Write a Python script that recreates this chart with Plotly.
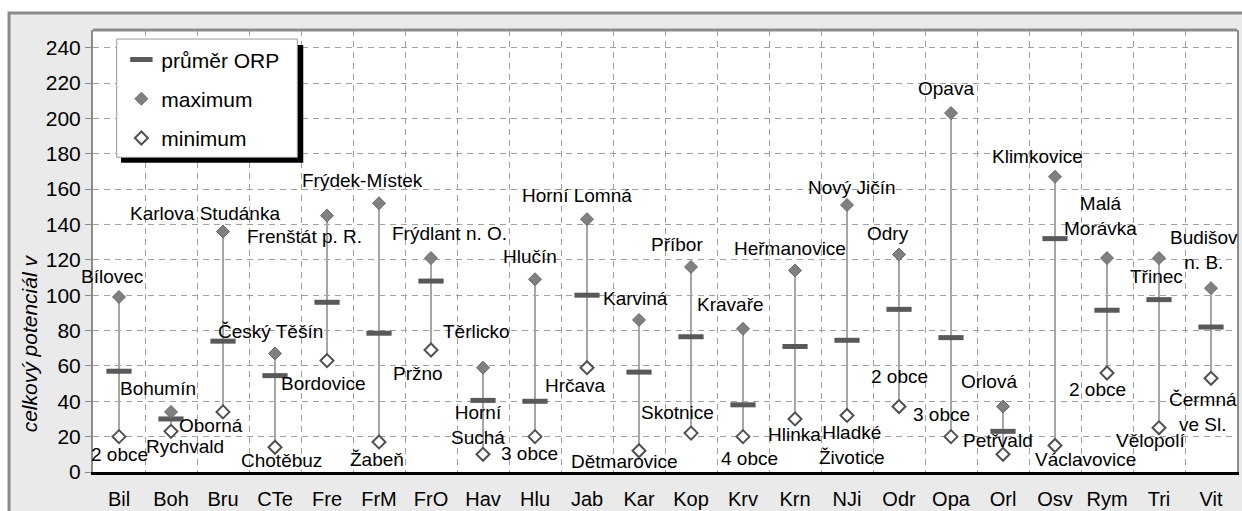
import plotly.graph_objects as go

# ORP codes and values
orp = ["Bil", "Boh", "Bru", "CTe", "Fre", "FrM", "FrO", "Hav", "Hlu", "Jab", "Kar",
       "Kop", "Krv", "Krn", "NJi", "Odr", "Opa", "Orl", "Osv", "Rym", "Tri", "Vit"]
prumer = [57, 30, 74, 54.5, 96, 78.5, 108, 40.5, 40, 100, 56.5,
          76.5, 38, 71, 74.5, 92, 76, 23, 132, 91.5, 97.5, 82]
maximum = [99, 34, 136, 67, 145, 152, 121, 59, 109, 143, 86,
           116, 81, 114, 151, 123, 203, 37, 167, 121, 121, 104]
minimum = [20, 23, 34, 14, 63, 17, 69, 10, 20, 59, 12,
           22, 20, 30, 32, 37, 20, 10, 15, 56, 25, 53]

max_names = ["Bílovec", "Bohumín", "Karlova Studánka", "Český Těšín", "Frenštát p. R.",
             "Frýdek-Místek", "Frýdlant n. O.", "Těrlicko", "Hlučín", "Horní Lomná",
             "Karviná", "Příbor", "Kravaře", "Heřmanovice", "Nový Jičín", "Odry", "Opava",
             "Orlová", "Klimkovice", "Malá<br>Morávka", "Třinec", "Budišov<br>n. B."]
min_names = ["2 obce", "Rychvald", "Oborná", "Chotěbuz", "Bordovice", "Žabeň", "Pržno",
             "Horní<br>Suchá", "3 obce", "Hrčava", "Dětmarovice", "Skotnice", "4 obce",
             "Hlinka", "Hladké<br>Životice", "2 obce", "3 obce", "Petřvald", "Václavovice",
             "2 obce", "Vělopolí", "Čermná<br>ve Sl."]

# label offsets in px (dx right, dy down) from the marker
max_off = [(-7, -20), (-13, -23), (-18, -18), (-5, -22), (-23, 21), (-17, -23), (18, -25),
           (-7, -36), (-5, -23), (-10, -24), (-4, -21), (-14, -22), (-13, -24), (-5, -22),
           (5, -18), (-11, -21), (-5, -25), (-14, -25), (-18, -20), (-7, -42), (-3, 18),
           (-7, -38)]
min_off = [(0, 18), (14, 15), (-12, 14), (6, 13), (-4, 23), (-2, 18), (-13, 23), (-5, -29),
           (-6, 17), (-12, 18), (-15, 11), (-14, -21), (6, 22), (-1, 16), (4, 30), (0, -30),
           (-10, -22), (-5, -14), (30, 14), (-10, 17), (-9, 13), (-8, 34)]

FONT = "Liberation Sans, Arial, sans-serif"

fig = go.Figure()

# min-max range lines
lx, ly = [], []
for c, lo, hi in zip(orp, minimum, maximum):
    lx += [c, c, None]
    ly += [lo, hi, None]
fig.add_trace(go.Scatter(x=lx, y=ly, mode="lines", line=dict(color="#a6a6a6", width=2),
                         showlegend=False, hoverinfo="skip"))

fig.add_trace(go.Scatter(x=orp, y=prumer, mode="markers", name="průměr ORP", legendgroup="a",
                         marker=dict(symbol="line-ew", size=18,
                                     line=dict(color="#595959", width=5))))
fig.add_trace(go.Scatter(x=orp, y=maximum, mode="markers", name="maximum", legendgroup="b",
                         marker=dict(symbol="diamond", size=10, color="#808080",
                                     line=dict(color="#6a6a6a", width=1))))
fig.add_trace(go.Scatter(x=orp, y=minimum, mode="markers", name="minimum", legendgroup="c",
                         marker=dict(symbol="diamond", size=10, color="white",
                                     line=dict(color="#505050", width=2))))

annotations = []
for c, v, t, (dx, dy) in zip(orp, maximum, max_names, max_off):
    annotations.append(dict(x=c, y=v, text=t, showarrow=False, xshift=dx, yshift=-dy,
                            font=dict(size=19, color="black", family=FONT)))
for c, v, t, (dx, dy) in zip(orp, minimum, min_names, min_off):
    annotations.append(dict(x=c, y=v, text=t, showarrow=False, xshift=dx, yshift=-dy,
                            font=dict(size=19, color="black", family=FONT)))
annotations.append(dict(xref="paper", yref="paper", x=-0.0555, y=0.29, text="<i>celkový potenciál v</i>",
                        textangle=-90, showarrow=False, xanchor="center", yanchor="middle",
                        font=dict(size=21, color="black", family=FONT)))

shapes = [
    # outer chart frame
    dict(type="rect", xref="paper", yref="paper", x0=-0.0734, x1=1.2, y0=-0.3, y1=1.0385,
         line=dict(color="#8a8a8a", width=3), fillcolor="#eaeaea", layer="below"),
    # plot area fill
    dict(type="rect", xref="paper", yref="paper", x0=0, x1=1, y0=0, y1=1,
         line=dict(width=0), fillcolor="white", layer="below"),
    # top border of plot area
    dict(type="line", xref="paper", yref="paper", x0=0, x1=1, y0=1, y1=1,
         line=dict(color="#8c8c8c", width=3)),
    # legend shadow and box
    dict(type="rect", xref="paper", yref="paper", x0=0.0245, x1=0.1838, y0=0.6998, y1=0.966,
         line=dict(width=0), fillcolor="black"),
    dict(type="rect", xref="paper", yref="paper", x0=0.0207, x1=0.1786, y0=0.712, y1=0.9796,
         line=dict(color="#999999", width=1), fillcolor="white"),
]

fig.update_layout(
    width=1242, height=511,
    margin=dict(l=93, r=5, t=30, b=39),
    paper_bgcolor="white", plot_bgcolor="white",
    font=dict(family=FONT, color="black"),
    showlegend=True,
    legend=dict(x=0.0248, y=0.979, xanchor="left", yanchor="top", bgcolor="rgba(0,0,0,0)",
                borderwidth=0, font=dict(size=21, family=FONT), tracegroupgap=9),
    annotations=annotations,
    shapes=shapes,
)
fig.update_xaxes(type="category", range=[-0.5, 21.5], tickson="boundaries", showgrid=True,
                 gridcolor="#a0a0a0", griddash="6px,5px", gridwidth=1, automargin=False,
                 showline=True, linecolor="black", linewidth=3, ticks="", ticklabelstandoff=7,
                 tickfont=dict(size=20, family=FONT), zeroline=False)
fig.update_yaxes(range=[0, 250], dtick=20, tick0=0, showgrid=True, gridcolor="#a0a0a0",
                 griddash="6px,5px", gridwidth=1, showline=True, mirror=True, linecolor="#8c8c8c",
                 linewidth=2, ticks="outside", ticklen=6, tickcolor="#8c8c8c", automargin=False,
                 tickfont=dict(size=21, family=FONT), zeroline=False)

fig.write_html("out.html", config={"displayModeBar": False},
               post_script="document.body.style.margin='0';document.body.style.overflow='hidden';")
